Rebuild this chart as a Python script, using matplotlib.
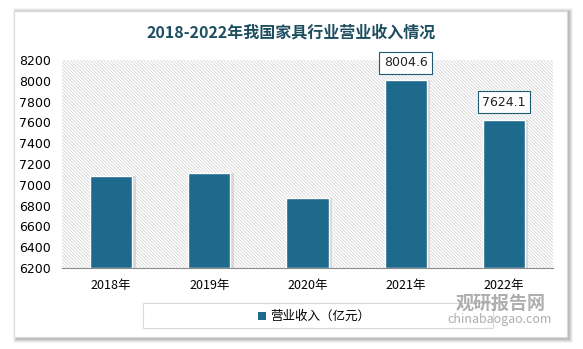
import matplotlib.pyplot as plt
from matplotlib.patches import Rectangle
import numpy as np

plt.rcParams['font.family'] = ['Noto Sans CJK SC', 'DejaVu Sans']
plt.rcParams['hatch.color'] = '#cccccc'
plt.rcParams['hatch.linewidth'] = 0.5

years = ['2018年', '2019年', '2020年', '2021年', '2022年']
revenue = [7081.7, 7117.2, 6875.4, 8004.6, 7624.1]
labelled = {3: '8004.6', 4: '7624.1'}
yticks = list(range(6200, 8201, 200))

W, H = 583, 349
fig = plt.figure(figsize=(W / 100, H / 100), dpi=100)
fig.patch.set_facecolor('white')

# panel with soft shadow
for i, a in enumerate([0.10, 0.08, 0.06, 0.04]):
    fig.patches.append(Rectangle(((14 - i + 2) / W, 1 - (340 + i) / H), (554 + 2 * i) / W, (329 + 2 * i) / H,
                                 transform=fig.transFigure, facecolor='black', alpha=a, edgecolor='none', zorder=0))
fig.patches.append(Rectangle((14 / W, 1 - 337 / H), 553 / W, 326 / H, transform=fig.transFigure,
                             facecolor='white', edgecolor='#d9d9d9', lw=0.8, zorder=1))

ax = fig.add_axes([62 / W, 1 - 268 / H, 491 / W, 208 / H])
ax.set_zorder(2)
ax.patch.set_alpha(0)
x = np.arange(len(years))
ax.set_xlim(-0.5, len(years) - 0.5)
ax.set_ylim(6200, 8200)

# hatched background
ax.add_patch(Rectangle((-0.5, 6200), len(years), 2000, facecolor='white', hatch='\\' * 10,
                       edgecolor='#cfcfcf', lw=0, zorder=0))

# bar shadows
ax.bar(x + 0.03, np.array(revenue) - 6200, bottom=6200, width=0.44, color='#bfbfbf', alpha=0.5, zorder=1)
ax.bar(x, np.array(revenue) - 6200, bottom=6200, width=0.43, color='#1f6a8c',
       edgecolor='white', linewidth=1.0, zorder=2)

for i, txt in labelled.items():
    ax.annotate(txt, (x[i], revenue[i]), xytext=(0, 8), textcoords='offset points',
                ha='center', va='bottom', fontsize=9, family='DejaVu Sans', color='#222222',
                bbox=dict(boxstyle='square,pad=0.35', fc='white', ec='#1f5a70', lw=0.8), zorder=5)

ax.set_xticks(x)
ax.set_xticklabels(years, fontsize=9)
ax.set_yticks(yticks)
ax.set_yticklabels([str(v) for v in yticks], fontsize=9, family='DejaVu Sans')
ax.tick_params(length=0, pad=8)
for s in ['top', 'right', 'left']:
    ax.spines[s].set_visible(False)
ax.spines['bottom'].set_color('#8c8c8c')
ax.spines['bottom'].set_zorder(3)

fig.text(0.5, 1 - 33 / H, '2018-2022年我国家具行业营业收入情况', ha='center', va='center',
         fontsize=11.5, fontweight='bold', color='#1d4e60')

# legend box
fig.patches.append(Rectangle((143 / W, 1 - 328 / H), 350 / W, 25 / H, transform=fig.transFigure,
                             facecolor='white', edgecolor='#d9d9d9', lw=0.8, zorder=3))
fig.patches.append(Rectangle((258 / W, 1 - 320 / H), 8 / W, 8 / H, transform=fig.transFigure,
                             facecolor='#1f6a8c', edgecolor='none', zorder=4))
fig.text(270 / W, 1 - 316 / H, '营业收入（亿元）', ha='left', va='center', fontsize=9, zorder=4)

# watermark
fig.text(456 / W, 1 - 303 / H, '观研报告网', ha='left', va='center', fontsize=13, fontweight='bold',
         color='#9a9a9a', alpha=0.8, zorder=6)
fig.text(447 / W, 1 - 320 / H, 'chinabaogao.com', ha='left', va='center', fontsize=9,
         color='#9a9a9a', alpha=0.8, zorder=6)

fig.savefig('out.png', dpi=100)
